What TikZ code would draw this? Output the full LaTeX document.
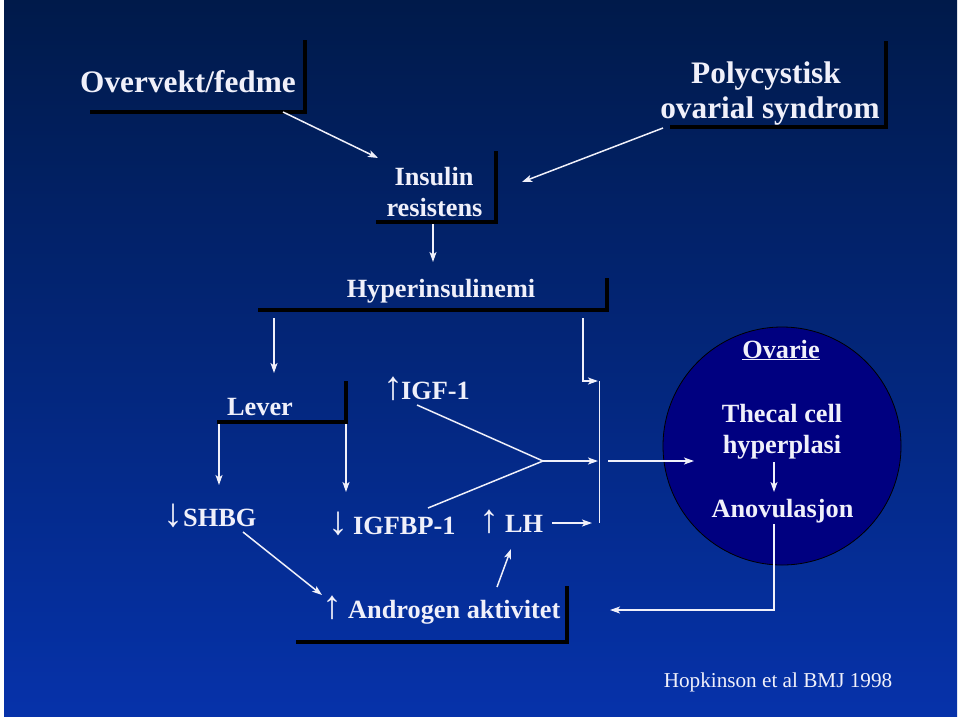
\documentclass[tikz,border=0pt]{standalone}
\usepackage{fontspec}
\setmainfont{Liberation Serif}
\usetikzlibrary{arrows.meta}
\definecolor{txt}{RGB}{240,240,250}
\definecolor{bgtop}{RGB}{0,26,74}
\definecolor{bgbot}{RGB}{6,50,170}
\definecolor{ovfill}{RGB}{0,0,128}
\tikzset{
 lbl/.style={text=txt,inner sep=0pt,anchor=base,font=\bfseries\fontsize{26.3}{31}\selectfont},
 biglbl/.style={lbl,font=\bfseries\fontsize{31.3}{36}\selectfont},
 reflbl/.style={text=txt,inner sep=0pt,anchor=base,font=\fontsize{21.2}{25}\selectfont},
 conn/.style={draw=txt,line width=1.5pt,-{Stealth[length=10pt,width=7pt,inset=2.5pt]}},
 plainline/.style={draw=txt,line width=1.5pt},
 frameline/.style={draw=black,line width=4pt,line cap=rect}
}
\newcommand{\arrup}[1]{\makebox[#1][c]{\mdseries\fontsize{40}{40}\selectfont ↑}}
\newcommand{\arrdn}[1]{\makebox[#1][c]{\mdseries\fontsize{40}{40}\selectfont ↓}}
\begin{document}
\begin{tikzpicture}[x=1pt,y=-1pt]
\fill[white] (0,0) rectangle (960,716);
\shade[top color=bgtop,bottom color=bgbot] (4,0) rectangle (957,716);

% frames
\draw[frameline] (92,112) -- (305,112) -- (305,42);
\draw[frameline] (672,127) -- (886,127) -- (886,43);
\draw[frameline] (378,222) -- (496,222) -- (496,153);
\draw[frameline] (260,310) -- (607,310) -- (607,280);
\draw[frameline] (219,422) -- (346,422) -- (346,383);
\draw[frameline] (298,642) -- (567,642) -- (567,588);

% ovary
\node[circle,draw=black,line width=0.8pt,fill=ovfill,minimum size=238pt,inner sep=0pt] (ovary) at (782,446) {};

% texts
\node[biglbl] (ov) at (188,92) {Overvekt/fedme};
\node[biglbl] (pcosA) at (766,83) {Polycystisk};
\node[biglbl] (pcosB) at (770,118) {ovarial syndrom};
\node[lbl] (irA) at (434,185) {Insulin};
\node[lbl] (irB) at (434.5,216) {resistens};
\node[lbl] (hyp) at (441,297) {Hyperinsulinemi};
\node[lbl] (lev) at (260,415) {Lever};
\node[lbl,anchor=base west] (igf) at (386,399) {\arrup{15pt}IGF-1};
\node[lbl,anchor=base west] (shbg) at (163,526) {\arrdn{20pt}SHBG};
\node[lbl,anchor=base west] (igfbp) at (323,534) {\arrdn{30pt}IGFBP-1};
\node[lbl,anchor=base west] (lh) at (473,532) {\arrup{32pt}LH};
\node[lbl,anchor=base west] (andr) at (317,618) {\arrup{31pt}Androgen aktivitet};
\node[lbl] (ovt) at (781,358) {\underline{Ovarie}};
\node[lbl] (thA) at (782,422) {Thecal cell};
\node[lbl] (thB) at (782,453) {hyperplasi};
\node[lbl] (anov) at (782.5,517) {Anovulasjon};
\node[reflbl] (hop) at (778,687) {Hopkinson et al BMJ 1998};

% connector end points
\coordinate (ovF) at (283,112);
\coordinate (irTipL) at (378,158);
\coordinate (pcF) at (663,128);
\coordinate (irTipR) at (522,182);
\coordinate (irS) at (433,224);
\coordinate (hypT) at (433,262);
\coordinate (hypL) at (274,318);
\coordinate (levT) at (274,373);
\coordinate (hypR) at (583,318);
\coordinate (barTop) at (598,381);
\coordinate (barA) at (599.5,381);
\coordinate (barB) at (599.5,523);
\coordinate (levL) at (219,424);
\coordinate (levLtip) at (219,485);
\coordinate (levR) at (346,424);
\coordinate (levRtip) at (346,492);
\coordinate (igfS) at (417,405);
\coordinate (igfbpS) at (428,508);
\coordinate (meet) at (543,461);
\coordinate (barMid) at (598,461);
\coordinate (lhS) at (552,523);
\coordinate (barLow) at (592,523);
\coordinate (ovIn) at (608,461);
\coordinate (ovTip) at (694,461);
\coordinate (shbgS) at (243,532);
\coordinate (andTip) at (322,595);
\coordinate (andS) at (497,587);
\coordinate (lhTip) at (511,549);
\coordinate (anovS) at (774,524);
\coordinate (retTip) at (610,610);
\coordinate (thS) at (774,462);
\coordinate (anovT) at (774,492);

% connectors
\draw[conn] (ovF) -- (irTipL);
\draw[conn] (pcF) -- (irTipR);
\draw[conn] (irS) -- (hypT);
\draw[conn] (hypL) -- (levT);
\draw[conn] (hypR) |- (barTop);
\draw[plainline] (barA) -- (barB);
\draw[conn] (levL) -- (levLtip);
\draw[conn] (levR) -- (levRtip);
\draw[plainline] (igfS) -- (meet);
\draw[plainline] (igfbpS) -- (meet);
\draw[conn] (meet) -- (barMid);
\draw[conn] (lhS) -- (barLow);
\draw[conn] (ovIn) -- (ovTip);
\draw[conn] (shbgS) -- (andTip);
\draw[conn] (andS) -- (lhTip);
\draw[conn] (anovS) |- (retTip);
\draw[conn] (thS) -- (anovT);
\end{tikzpicture}
\end{document}
